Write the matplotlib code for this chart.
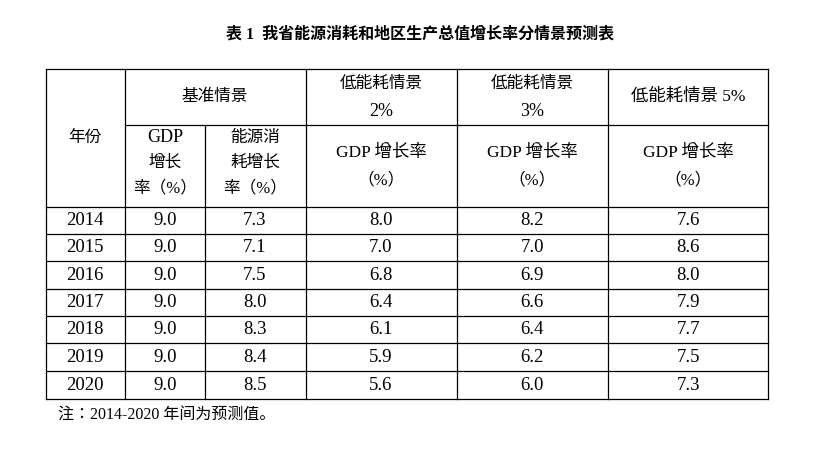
import matplotlib
matplotlib.use("Agg")
import matplotlib.pyplot as plt

years = ["2014", "2015", "2016", "2017", "2018", "2019", "2020"]
base_gdp = [9.0, 9.0, 9.0, 9.0, 9.0, 9.0, 9.0]
base_energy = [7.3, 7.1, 7.5, 8.0, 8.3, 8.4, 8.5]
low2_gdp = [8.0, 7.0, 6.8, 6.4, 6.1, 5.9, 5.6]
low3_gdp = [8.2, 7.0, 6.9, 6.6, 6.4, 6.2, 6.0]
low5_gdp = [7.6, 8.6, 8.0, 7.9, 7.7, 7.5, 7.3]

CJK = ["Liberation Serif", "Noto Sans CJK SC", "Noto Sans CJK JP", "Noto Sans CJK TC",
       "Noto Sans CJK KR", "DejaVu Sans"]
NUM = "Liberation Serif"

fig = plt.figure(figsize=(8.19, 4.49), dpi=100)
ax = fig.add_axes([0, 0, 1, 1])
ax.set_xlim(0, 819); ax.set_ylim(449, 0); ax.axis("off")

def line(x0, y0, x1, y1):
    ax.plot([x0, x1], [y0, y1], color="black", lw=0.9)

def txt(x, y, s, font=CJK, size=12, **kw):
    ax.text(x, y, s, ha="center", va="center", fontfamily=font, fontsize=size, **kw)

cols = [46, 125, 205, 306, 457, 608, 768]
rows = [69, 125, 207, 234, 261, 289, 316, 343, 371, 399]

txt(420, 35, "表 1  我省能源消耗和地区生产总值增长率分情景预测表", size=11.5, fontweight="bold")

line(cols[0], rows[0], cols[-1], rows[0])
line(cols[0], rows[-1], cols[-1], rows[-1])
line(cols[1], rows[1], cols[-1], rows[1])
for r in rows[2:-1]:
    line(cols[0], r, cols[-1], r)
for i, c in enumerate(cols):
    top = rows[1] if i == 2 else rows[0]
    line(c, top, c, rows[-1])

txt(85, 138, "年份", size=12)
txt(215, 97, "基准情景", size=12)
txt(381, 84, "低能耗情景", size=12); txt(381, 111, "2%", font=NUM, size=13)
txt(532, 84, "低能耗情景", size=12); txt(532, 111, "3%", font=NUM, size=13)
txt(688, 97, "低能耗情景 5%", size=12.5)
txt(165, 138, "GDP", font=NUM, size=13)
txt(165, 163, "增长", size=12)
txt(165, 188, "率（%）", size=12)
txt(255, 138, "能源消", size=12)
txt(255, 163, "耗增长", size=12)
txt(255, 188, "率（%）", size=12)
for cx in [381, 532, 688]:
    txt(cx, 153, "GDP 增长率", size=12.5)
    txt(cx, 180, "（%）", size=12)

for i in range(len(years)):
    cy = (rows[i + 2] + rows[i + 3]) / 2
    txt(85, cy, years[i], font=NUM, size=13.5)
    txt(165, cy, f"{base_gdp[i]:.1f}", font=NUM, size=13.5)
    txt(255, cy, f"{base_energy[i]:.1f}", font=NUM, size=13.5)
    txt(381, cy, f"{low2_gdp[i]:.1f}", font=NUM, size=13.5)
    txt(532, cy, f"{low3_gdp[i]:.1f}", font=NUM, size=13.5)
    txt(688, cy, f"{low5_gdp[i]:.1f}", font=NUM, size=13.5)

ax.text(58, 415, "注：2014-2020 年间为预测值。", ha="left", va="center", fontfamily=CJK, fontsize=11.5)

fig.savefig("out.png", dpi=100)
